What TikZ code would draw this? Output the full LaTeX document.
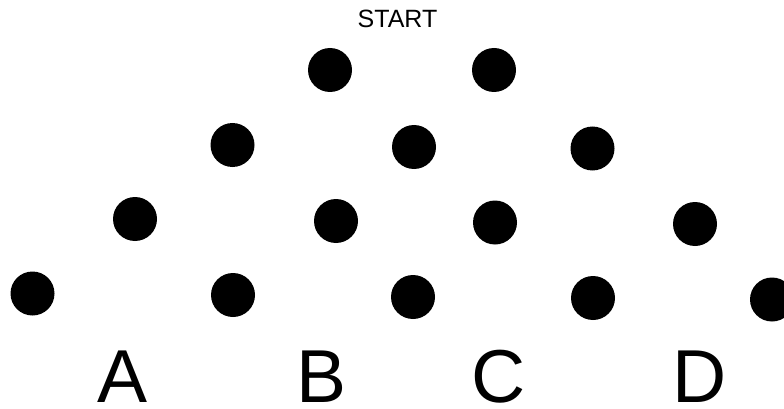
\documentclass[tikz,border=0pt]{standalone}
\usepackage{fontspec}
\setmainfont{Liberation Sans}
\usepackage{tikz}

\begin{document}
\begin{tikzpicture}[x=1pt, y=-1pt,
    peg/.style={circle, fill=black, inner sep=0pt, minimum size=44pt},
    bin/.style={anchor=base, inner sep=0pt, font=\fontsize{75}{80}\selectfont}]

\useasboundingbox (0,0) rectangle (784,409);

% Títol
\node[anchor=base, inner sep=0pt, font=\fontsize{25}{28}\selectfont] (start) at (397.5,28) {START};

% Fila 1
\node[peg] (p11) at (330,70) {};
\node[peg] (p12) at (494,70) {};

% Fila 2
\node[peg] (p21) at (232.5,145) {};
\node[peg] (p22) at (414,147) {};
\node[peg] (p23) at (592.5,148.5) {};

% Fila 3
\node[peg] (p31) at (135,219) {};
\node[peg] (p32) at (336,221) {};
\node[peg] (p33) at (495,222.5) {};
\node[peg] (p34) at (695,224) {};

% Fila 4
\node[peg] (p41) at (32.5,293.5) {};
\node[peg] (p42) at (233,295) {};
\node[peg] (p43) at (413,297) {};
\node[peg] (p44) at (593,298) {};
\node[peg] (p45) at (772,299.5) {};

% Caixes
\node[bin] (binA) at (123,402) {A};
\node[bin] (binB) at (321.5,402) {B};
\node[bin] (binC) at (499,402) {C};
\node[bin] (binD) at (699.5,402) {D};

\end{tikzpicture}
\end{document}
